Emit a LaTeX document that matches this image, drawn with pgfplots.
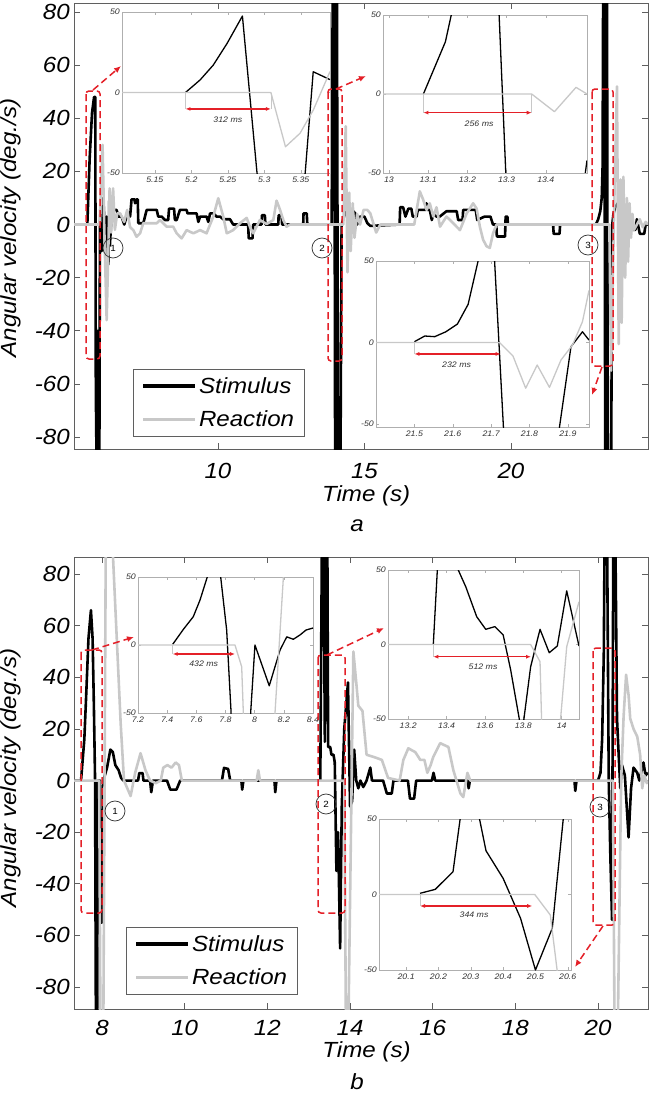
\documentclass[border=0pt]{standalone}
\usepackage{fontspec}
\setmainfont{Liberation Sans}[FakeStretch=1.1]
\usepackage{pgfplots}
\pgfplotsset{compat=1.18}
\usetikzlibrary{arrows.meta}

\definecolor{reacgray}{RGB}{200,200,200}
\definecolor{annred}{RGB}{228,32,40}
\definecolor{boxgray}{RGB}{95,95,95}
\definecolor{insetgray}{RGB}{175,175,175}

\newcommand{\bigfont}{\fontsize{22}{26}\selectfont\itshape}
\newcommand{\smallfont}{\fontsize{8}{9}\selectfont\itshape}

\pgfplotsset{
  mainax/.style={
    scale only axis, anchor=north west, width=574bp,
    clip mode=individual,
    tick align=inside, major tick length=6bp,
    axis line style={boxgray, line width=0.8bp},
    tick style={boxgray, line width=0.8bp},
    ticklabel style={font=\bigfont, inner sep=0bp},
    yticklabel style={xshift=-4bp},
    ytick={-80,-60,-40,-20,0,20,40,60,80},
    yticklabels={-80,-60,-40,-20,0,20,40,60,80},
    label style={font=\bigfont},
    legend style={draw=boxgray, line width=0.8bp, font=\bigfont,
      anchor=north west, inner xsep=8bp, inner ysep=6bp, row sep=12bp},
    legend image code/.code={\draw[#1, line width=3.6bp] (0bp,0bp) -- (52bp,0bp);},
    legend cell align=left,
  },
  stim/.style={black, line width=2.6bp, line join=round},
  reac/.style={reacgray, line width=2.6bp, line join=round},
  inset/.style={
    scale only axis, anchor=north west,
    axis background/.style={fill=white},
    axis line style={insetgray, line width=0.6bp},
    tick style={insetgray, line width=0.5bp}, major tick length=3bp,
    ticklabel style={font=\smallfont, text=black!80, inner sep=0bp},
    xticklabel style={yshift=-4bp}, yticklabel style={xshift=-2bp},
    ymin=-50, ymax=50,
    ytick={-50,0,50}, yticklabels={-50,0,50},
  },
  istim/.style={black, line width=1.3bp, line join=round},
  ireac/.style={reacgray, line width=1.3bp, line join=round},
}
\tikzset{
  bracket/.style={annred, line width=1.5bp, dash pattern=on 7bp off 4bp, rounded corners=3bp},
  linkarrow/.style={annred, line width=1.5bp, dash pattern=on 7bp off 4bp, -{Latex[length=7bp,width=6bp]}},
  msarrow/.style={annred, line width=1.2bp, {Latex[length=5bp,width=4bp]}-{Latex[length=5bp,width=4bp]}},
  guide/.style={reacgray, line width=0.5bp},
  num/.style={circle, draw=black!80, line width=0.7bp, minimum size=20bp, inner sep=0pt,
    font=\fontsize{9}{10}\selectfont},
  ms/.style={font=\smallfont, text=black!80},
}

\begin{document}
\begin{tikzpicture}
\useasboundingbox (0,0) rectangle (653bp,-1093bp);

% ---------------- panel a ----------------
\begin{axis}[mainax, at={(74bp,-3bp)}, height=446bp,
  xmin=5.085, xmax=24.68, ymin=-84.5, ymax=83.4,
  xtick={10,15,20}, xticklabels={10,15,20},
  xticklabel style={yshift=-14bp},
  xlabel={Time (s)}, xlabel style={at={(axis description cs:0.509,-0.1166)}, anchor=base},
  ylabel={Angular velocity (deg./s)}, ylabel style={at={(axis description cs:-0.0993,0.4955)}, anchor=base},
  legend style={at={(axis description cs:0.1028,0.1794)}},
]
\addplot[stim] coordinates {
(5.085,0) (5.54,0) (5.62,25) (5.7,42) (5.77,48) (5.81,48) (5.83,-62) (5.86,-95) (5.88,-95) (5.9,-40) (5.92,-95) (5.95,-95) (5.97,0)
(6.03,-10) (6.085,10) (6.15,-5) (6.2,3) (6.26,-15) (6.29,9) (6.31,-8) (6.37,4) (6.43,5.5) (6.54,5.5) (6.6,3) (6.71,3) (6.8,0)
(6.88,3) (7.0,3) (7.05,9.5) (7.15,9.5) (7.17,8) (7.225,9.5) (7.26,9.5) (7.28,0.5) (7.45,0.5) (7.566,5.5) (7.91,5.5) (7.96,3)
(8.08,3) (8.19,1.7) (8.3,1.7) (8.33,6) (8.5,6) (8.53,1.7) (8.59,1.7) (8.7,5.5) (8.93,5.5) (8.96,4.2) (9.27,4.2) (9.33,1)
(9.39,3) (9.61,3) (9.67,1) (9.73,4.2) (9.84,4.2) (9.95,3) (10.07,3) (10.18,2) (10.41,2) (10.52,0) (11.03,0) (11.05,-5.2)
(11.18,-5.2) (11.2,0) (11.49,0) (11.5,3.5) (11.6,3.5) (11.62,0) (12.06,0) (12.07,3.5) (12.17,3.5) (12.19,0) (12.91,0)
(12.92,4.2) (13.03,4.2) (13.05,0) (13.88,0) (13.92,95) (13.97,95) (14.0,-95) (14.03,95) (14.06,95) (14.1,-95) (14.18,-95)
(14.22,0) (14.3,3) (14.4,5) (14.5,1.7) (14.62,5) (14.7,4) (14.75,0) (14.85,3) (15.0,3) (15.1,0.5) (15.2,-0.5) (16.2,0)
(16.22,6.5) (16.32,6.5) (16.4,3) (16.5,6) (16.6,6) (16.65,3) (16.78,3) (16.82,5.5) (17.1,5.5) (17.12,8) (17.15,5.5)
(17.23,5.5) (17.3,1.7) (17.35,4) (17.46,3) (17.57,3) (17.8,5) (18.15,5) (18.2,1.7) (18.35,1.7) (18.37,5.5) (18.8,5.5)
(18.85,1.7) (19.1,3) (19.3,3) (19.39,0) (19.5,0) (19.52,-4.5) (19.8,-4.5) (19.82,3) (19.88,3) (19.9,0) (21.44,0)
(21.46,-3.5) (21.66,-3.5) (21.68,0) (22.9,0) (22.98,2) (23.05,5) (23.1,10) (23.13,22) (23.15,95) (23.19,95) (23.22,-95)
(23.25,95) (23.28,95) (23.31,-95) (23.42,-95) (23.46,0) (23.5,4) (23.56,6.5) (23.65,8) (23.72,3) (23.8,4) (23.95,4)
(24.0,0.5) (24.1,-2) (24.25,-2) (24.3,2) (24.4,-3.5) (24.55,-3.5) (24.6,0) (24.68,0)
};
\addlegendentry{Stimulus}
\addplot[reac] coordinates {
(5.085,0) (5.95,0) (6.0,12) (6.06,30) (6.12,-2) (6.2,-36) (6.26,-8) (6.3,13.6) (6.35,-3) (6.42,13.6) (6.48,-2) (6.56,4.2)
(6.66,4.2) (6.8,1) (6.9,5.5) (7.0,-1) (7.11,-2.1) (7.22,-4.6) (7.34,-3.3) (7.45,0.5) (7.91,0.5) (8.02,1.7) (8.25,-0.8)
(8.47,-0.8) (8.59,-3.3) (8.76,-5.2) (8.93,-2.1) (9.16,-3.3) (9.39,-2.1) (9.61,-3.3) (9.84,3) (10.01,9.9) (10.18,3)
(10.3,-3.3) (10.52,-2.1) (10.75,0.5) (10.98,2.5) (11.09,-0.8) (11.2,-3.3) (11.43,1.7) (11.66,0.2) (11.89,1.7) (12.0,9)
(12.12,5.5) (12.23,1.7) (12.34,-0.8) (12.46,0) (14.28,0) (14.36,37) (14.42,-18) (14.48,12) (14.53,-10) (14.6,8) (14.66,-5)
(14.75,4) (14.85,0) (14.97,5.5) (15.1,5.5) (15.2,4.2) (15.4,-3) (15.54,0) (16.7,0) (16.89,12.5) (17.0,9.5) (17.12,5.5)
(17.23,8) (17.35,3) (17.46,6.5) (17.58,-0.8) (17.8,3) (18.03,0.5) (18.26,-2.1) (18.49,4.2) (18.71,8) (18.83,6) (18.94,-0.8)
(19.05,-5.7) (19.17,-8.2) (19.28,-8.8) (19.39,-3.3) (19.51,0) (23.36,0) (23.42,-55) (23.48,-20) (23.55,20) (23.62,52)
(23.68,-45) (23.74,17) (23.78,-37) (23.84,18) (23.9,-20) (23.96,10) (24.0,-14) (24.05,8) (24.1,-5) (24.15,4) (24.2,-2)
(24.3,0) (24.4,2) (24.5,-1) (24.6,1) (24.68,0)
};
\addlegendentry{Reaction}
\node[font=\bigfont, anchor=base] at (axis description cs:0.493,-0.186) {a};
\end{axis}

% inset a1
\begin{axis}[inset, at={(122bp,-12bp)}, width=208bp, height=161bp,
  xmin=5.105, xmax=5.39,
  xtick={5.15,5.2,5.25,5.3,5.35}, xticklabels={5.15,5.2,5.25,5.3,5.35}]
\addplot[istim] coordinates {(5.192,0) (5.212,7.8) (5.23,17) (5.249,30.5) (5.27,47.5) (5.29,-50) (5.295,-60)};
\addplot[istim] coordinates {(5.352,-60) (5.356,-50) (5.367,12.9) (5.39,8)};
\addplot[ireac] coordinates {(5.105,0) (5.309,0) (5.329,-33.7) (5.349,-25.3) (5.367,-11) (5.39,13)};
\draw[guide] (axis cs:5.192,0) -- (axis cs:5.192,-10.2);
\draw[guide] (axis cs:5.309,0) -- (axis cs:5.309,-10.2);
\draw[msarrow] (axis cs:5.192,-10.2) -- (axis cs:5.309,-10.2);
\node[ms] at (axis cs:5.25,-17) {312 ms};
\end{axis}

% inset a2
\begin{axis}[inset, at={(383bp,-15bp)}, width=204bp, height=158bp,
  xmin=12.985, xmax=13.505,
  xtick={13,13.1,13.2,13.3,13.4}, xticklabels={13,13.1,13.2,13.3,13.4}]
\addplot[istim] coordinates {(13.088,0) (13.144,33) (13.159,50) (13.165,60)};
\addplot[istim] coordinates {(13.278,60) (13.281,50) (13.298,-50) (13.3,-60)};
\addplot[istim] coordinates {(13.498,-55) (13.505,-42)};
\addplot[ireac] coordinates {(12.985,0) (13.364,0) (13.422,-11.2) (13.477,4.2) (13.505,0)};
\draw[guide] (axis cs:13.088,0) -- (axis cs:13.088,-11.8);
\draw[guide] (axis cs:13.364,0) -- (axis cs:13.364,-11.8);
\draw[msarrow] (axis cs:13.088,-11.8) -- (axis cs:13.364,-11.8);
\node[ms] at (axis cs:13.23,-19) {256 ms};
\end{axis}

% inset a3
\begin{axis}[inset, at={(376bp,-261bp)}, width=213bp, height=166bp,
  xmin=21.40, xmax=21.955, ymin=-51.8,
  xtick={21.5,21.6,21.7,21.8,21.9}, xticklabels={21.5,21.6,21.7,21.8,21.9}]
\addplot[istim] coordinates {(21.5,0.5) (21.527,4) (21.553,3.6) (21.582,6.6) (21.612,11.3) (21.64,23.4) (21.666,50) (21.67,60)};
\addplot[istim] coordinates {(21.706,60) (21.709,50) (21.732,-51.8) (21.734,-60)};
\addplot[istim] coordinates {(21.875,-60) (21.878,-52) (21.908,-2.6) (21.938,6.6) (21.955,1.5)};
\addplot[ireac] coordinates {(21.40,0) (21.722,0) (21.757,-8.3) (21.79,-28) (21.82,-13.8) (21.852,-27.5) (21.882,-10.7) (21.912,-1.5) (21.938,12.8) (21.955,32)};
\draw[guide] (axis cs:21.5,0) -- (axis cs:21.5,-7);
\draw[msarrow] (axis cs:21.5,-7) -- (axis cs:21.725,-7);
\node[ms] at (axis cs:21.61,-13.5) {232 ms};
\end{axis}

% ---------------- panel b ----------------
\begin{axis}[mainax, at={(74bp,-557bp)}, height=452bp,
  xmin=7.32, xmax=21.21, ymin=-88.5, ymax=86.6,
  xtick={8,10,12,14,16,18,20}, xticklabels={8,10,12,14,16,18,20},
  xticklabel style={yshift=-11bp},
  xlabel={Time (s)}, xlabel style={at={(axis description cs:0.5096,-0.1062)}, anchor=base},
  ylabel={Angular velocity (deg./s)}, ylabel style={at={(axis description cs:-0.0993,0.511)}, anchor=base},
  legend style={at={(axis description cs:0.0906,0.1814)}},
]
\addplot[stim] coordinates {
(7.32,0) (7.49,0) (7.53,8) (7.57,16) (7.62,35) (7.67,55) (7.73,66) (7.77,55) (7.8,30) (7.83,0) (7.85,-95) (7.88,-95)
(7.9,0) (7.95,0) (7.97,-55) (8.0,-55) (8.03,0) (8.12,5) (8.2,12) (8.26,11) (8.32,6) (8.4,4) (8.46,1) (8.52,0) (8.87,0)
(8.9,2.9) (8.98,2.9) (9.0,0) (9.16,0) (9.19,-4.5) (9.23,0) (9.57,0) (9.65,-3.5) (9.8,-3.5) (9.89,0) (10.9,0) (10.95,4.9)
(11.05,4.5) (11.1,0) (11.37,0) (11.39,-3.5) (11.42,0) (12.17,0) (12.19,-4.5) (12.22,0) (13.28,0) (13.32,95) (13.36,95)
(13.39,15) (13.42,95) (13.45,95) (13.47,13) (13.52,13) (13.55,10) (13.6,10) (13.63,7) (13.67,-35) (13.71,-20) (13.76,-65)
(13.8,-10) (13.86,20) (13.95,38) (14.0,-10) (14.05,-8) (14.1,12) (14.15,0) (14.2,-3) (14.25,0) (14.32,-2.5) (14.4,0)
(14.49,5) (14.53,0) (14.8,0) (14.89,-5) (15.01,-5) (15.05,0) (15.4,0) (15.45,-7) (15.55,-7) (15.6,0) (15.98,0) (16.02,3)
(16.06,0) (16.85,0) (16.87,-3) (16.9,0) (19.43,0) (19.45,-4) (19.48,0) (20.0,0) (20.06,3) (20.1,16) (20.14,49) (20.16,95)
(20.22,95) (20.26,0) (20.3,-30) (20.34,-54) (20.37,95) (20.42,95) (20.46,24) (20.5,10) (20.54,-3) (20.58,6) (20.65,2)
(20.74,-22) (20.8,-3) (20.86,5) (20.95,3) (21.0,0) (21.1,7) (21.15,2) (21.21,3)
};
\addlegendentry{Stimulus}
\addplot[reac] coordinates {
(7.32,0) (7.93,0) (7.96,-95) (8.03,-95) (8.09,95) (8.24,95) (8.45,22) (8.53,0) (8.69,-6) (8.8,3) (8.93,10.6) (9.05,4)
(9.16,0) (9.3,-1) (9.42,0) (9.48,5) (9.58,6) (9.68,5) (9.78,7) (9.86,6) (9.93,0) (11.74,0) (11.78,4) (11.82,0) (13.86,0)
(13.9,-95) (13.96,-95) (14.08,50) (14.15,38) (14.2,29) (14.3,27) (14.4,10) (14.6,9) (14.77,8) (14.92,1) (15.2,0) (15.29,8)
(15.41,12.5) (15.58,11) (15.7,8) (15.8,8) (15.87,3) (15.95,6) (16.01,9) (16.18,14.5) (16.38,13) (16.5,4) (16.67,-5)
(16.74,-6.4) (16.84,3) (16.91,0) (20.32,0) (20.36,0) (20.4,-95) (20.48,-95) (20.56,0) (20.62,25) (20.68,41) (20.74,33)
(20.78,24) (20.86,20) (20.95,17) (21.02,10) (21.07,-3) (21.12,2) (21.18,-1) (21.21,0)
};
\addlegendentry{Reaction}
\node[font=\bigfont, anchor=base] at (axis description cs:0.493,-0.179) {b};
\end{axis}

% inset b1
\begin{axis}[inset, at={(138bp,-577bp)}, width=175bp, height=136bp,
  xmin=7.2, xmax=8.4,
  xtick={7.2,7.4,7.6,7.8,8,8.2,8.4}, xticklabels={7.2,7.4,7.6,7.8,8,8.2,8.4}]
\addplot[istim] coordinates {(7.438,0.5) (7.511,11.5) (7.579,20.8) (7.625,33) (7.675,50) (7.68,55)};
\addplot[istim] coordinates {(7.764,55) (7.767,50) (7.808,11) (7.838,-49) (7.84,-60)};
\addplot[istim] coordinates {(7.97,-60) (7.973,-49) (8.002,0) (8.1,-30) (8.174,-3.7) (8.22,6) (8.265,4.2) (8.311,7.4) (8.352,11) (8.4,12.5)};
\addplot[ireac] coordinates {(7.2,0) (7.865,0) (7.911,-16) (7.922,-49) (7.924,-60)};
\addplot[ireac] coordinates {(8.138,-60) (8.14,-49) (8.197,50) (8.2,55)};
\draw[guide] (axis cs:7.438,0) -- (axis cs:7.438,-6.6);
\draw[msarrow] (axis cs:7.438,-6.6) -- (axis cs:7.865,-6.6);
\node[ms] at (axis cs:7.65,-13.5) {432 ms};
\end{axis}

% inset b2
\begin{axis}[inset, at={(388bp,-570bp)}, width=191bp, height=149bp,
  xmin=13.095, xmax=14.09,
  xtick={13.2,13.4,13.6,13.8,14}, xticklabels={13.2,13.4,13.6,13.8,14}]
\addplot[istim] coordinates {(13.331,0) (13.352,50) (13.354,55)};
\addplot[istim] coordinates {(13.458,55) (13.461,50) (13.5,38.8) (13.557,18.7) (13.604,10.2) (13.652,12) (13.695,6.4) (13.734,-17) (13.779,-50) (13.781,-55)};
\addplot[istim] coordinates {(13.801,-55) (13.803,-50) (13.838,-15) (13.887,10.2) (13.935,-5.5) (13.977,-1) (14.026,36) (14.09,-1)};
\addplot[ireac] coordinates {(13.095,0) (13.838,0) (13.887,-11.5) (13.895,-50) (13.896,-55)};
\addplot[ireac] coordinates {(13.993,-55) (13.994,-50) (14.026,-1.5) (14.09,28.7)};
\draw[guide] (axis cs:13.331,0) -- (axis cs:13.331,-8.2);
\draw[msarrow] (axis cs:13.331,-8.2) -- (axis cs:13.84,-8.2);
\node[ms] at (axis cs:13.59,-15) {512 ms};
\end{axis}

% inset b3
\begin{axis}[inset, at={(379bp,-819bp)}, width=192bp, height=151bp,
  xmin=20.016, xmax=20.61,
  xtick={20.1,20.2,20.3,20.4,20.5,20.6}, xticklabels={20.1,20.2,20.3,20.4,20.5,20.6}]
\addplot[istim] coordinates {(20.143,0.8) (20.19,3.4) (20.245,15.1) (20.267,50) (20.27,55)};
\addplot[istim] coordinates {(20.325,55) (20.327,50) (20.347,29) (20.4,10.7) (20.454,-15.8) (20.5,-50) (20.552,-22.4) (20.586,50) (20.588,55)};
\addplot[ireac] coordinates {(20.016,0) (20.498,0) (20.546,-13.6) (20.567,-50) (20.568,-55)};
\draw[guide] (axis cs:20.143,0) -- (axis cs:20.143,-7.6);
\draw[msarrow] (axis cs:20.143,-7.6) -- (axis cs:20.49,-7.6);
\node[ms] at (axis cs:20.31,-13.5) {344 ms};
\end{axis}

% ---------------- annotations (pixel coordinates) ----------------
\begin{scope}[x=1bp, y=-1bp]
  % panel a
  \draw[bracket] (86,91) rectangle (100,359);
  \draw[linkarrow] (93,90) -- (121,66);
  \draw[bracket] (328,89) rectangle (342,361);
  \draw[linkarrow] (336,89) -- (366,76);
  \draw[bracket] (592,89) rectangle (613,366);
  \draw[linkarrow] (602,367) -- (592,395);
  \node[num] at (113,248) {1};
  \node[num] at (322,248) {2};
  \node[num] at (588,245) {3};
  % panel b
  \draw[bracket] (81,650) rectangle (102,913);
  \draw[linkarrow] (92,650) -- (134,637);
  \draw[bracket] (318,655) rectangle (345,913);
  \draw[linkarrow] (327,655) -- (384,628);
  \draw[bracket] (593,648) rectangle (615,925);
  \draw[linkarrow] (603,926) -- (575,967);
  \node[num] at (115,811) {1};
  \node[num] at (326,804) {2};
  \node[num] at (600,807) {3};
\end{scope}
\end{tikzpicture}
\end{document}
